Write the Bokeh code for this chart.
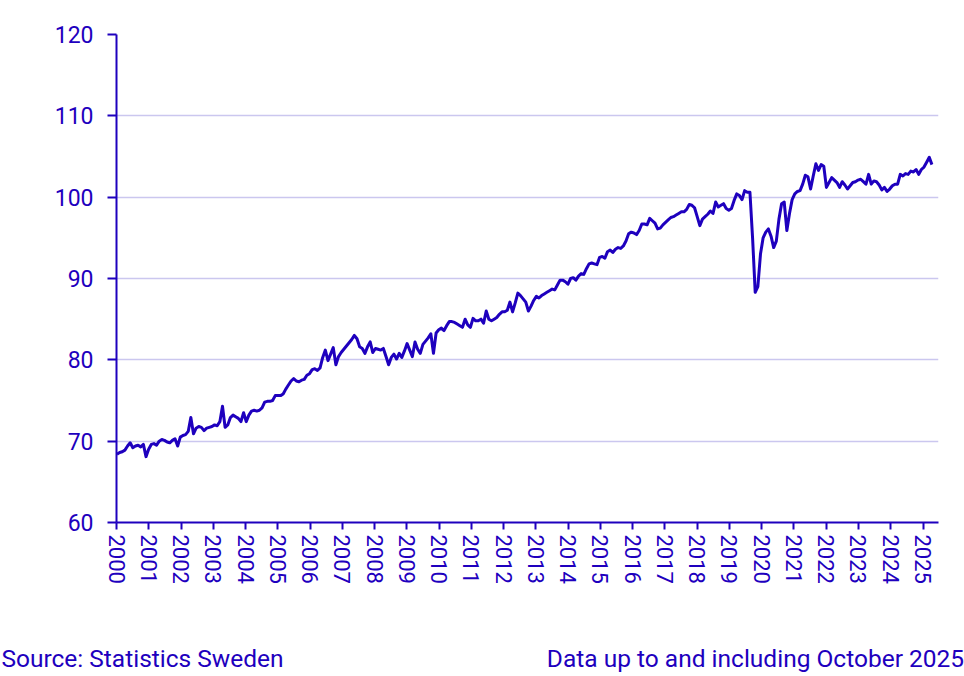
import numpy as np
from bokeh.plotting import figure
from bokeh.models import ColumnDataSource, LinearAxis, Range1d, FixedTicker
from bokeh.embed import file_html
from bokeh.resources import INLINE

# Monthly index values, January 2000 - October 2025
v2000 = [68.4, 68.6, 68.7, 68.9, 69.4, 69.8, 69.2, 69.4, 69.5, 69.3, 69.6, 68.1]
v2001 = [69.0, 69.6, 69.7, 69.5, 70.0, 70.2, 70.1, 69.9, 69.8, 70.1, 70.3, 69.4]
v2002 = [70.5, 70.7, 70.8, 71.2, 72.9, 70.9, 71.6, 71.8, 71.7, 71.3, 71.6, 71.7]
v2003 = [71.8, 72.0, 71.9, 72.4, 74.3, 71.7, 72.0, 72.9, 73.2, 73.0, 72.8, 72.4]
v2004 = [73.5, 72.4, 73.2, 73.7, 73.8, 73.7, 73.8, 74.1, 74.8, 74.9, 74.9, 75.0]
v2005 = [75.6, 75.6, 75.6, 75.8, 76.4, 76.9, 77.4, 77.7, 77.4, 77.3, 77.5, 77.6]
v2006 = [78.1, 78.3, 78.8, 78.9, 78.7, 79.0, 80.3, 81.2, 79.9, 80.7, 81.5, 79.4]
v2007 = [80.4, 80.9, 81.3, 81.7, 82.1, 82.5, 83.0, 82.6, 81.6, 81.4, 80.8, 81.6]
v2008 = [82.2, 80.9, 81.4, 81.3, 81.2, 81.4, 80.4, 79.4, 80.3, 80.7, 80.1, 80.8]
v2009 = [80.3, 81.1, 82.0, 81.2, 80.4, 82.2, 81.3, 80.8, 81.9, 82.3, 82.7, 83.2]
v2010 = [80.8, 83.3, 83.7, 83.9, 83.6, 84.2, 84.7, 84.7, 84.6, 84.4, 84.2, 84.0]
v2011 = [85.0, 84.3, 84.0, 85.1, 84.8, 84.8, 85.0, 84.5, 86.0, 85.0, 84.8, 85.0]
v2012 = [85.2, 85.6, 85.9, 85.9, 86.1, 87.1, 85.9, 87.0, 88.2, 87.9, 87.5, 87.1]
v2013 = [86.0, 86.6, 87.3, 87.8, 87.6, 87.9, 88.1, 88.3, 88.5, 88.7, 88.6, 89.2]
v2014 = [89.8, 89.8, 89.6, 89.3, 90.0, 90.1, 89.8, 90.3, 90.6, 90.5, 91.2, 91.8]
v2015 = [91.9, 91.8, 91.7, 92.6, 92.7, 92.5, 93.3, 93.5, 93.2, 93.6, 93.8, 93.7]
v2016 = [94.0, 94.6, 95.5, 95.7, 95.6, 95.4, 95.9, 96.7, 96.7, 96.6, 97.4, 97.1]
v2017 = [96.8, 96.1, 96.2, 96.6, 96.9, 97.2, 97.5, 97.6, 97.8, 98.0, 98.2, 98.2]
v2018 = [98.5, 99.1, 99.0, 98.7, 97.6, 96.5, 97.3, 97.6, 97.9, 98.3, 98.0, 99.4]
v2019 = [98.8, 99.0, 99.2, 98.6, 98.4, 98.6, 99.6, 100.4, 100.2, 99.7, 100.8, 100.6]
v2020 = [100.6, 95.0, 88.3, 89.0, 93.0, 95.0, 95.7, 96.1, 95.2, 93.8, 94.6, 97.3]
v2021 = [99.2, 99.4, 95.9, 98.0, 99.7, 100.4, 100.7, 100.8, 101.6, 102.7, 102.5, 101.0]
v2022 = [102.6, 104.1, 103.3, 104.0, 103.8, 101.2, 101.8, 102.4, 102.1, 101.8, 101.2, 101.9]
v2023 = [101.5, 101.0, 101.4, 101.8, 101.9, 102.1, 102.2, 101.9, 101.6, 102.8, 101.6, 102.0]
v2024 = [101.9, 101.5, 100.9, 101.2, 100.7, 101.0, 101.4, 101.6, 101.6, 102.8, 102.6, 102.9]
v2025 = [102.8, 103.2, 103.1, 103.4, 102.8, 103.4, 103.7, 104.3, 104.9, 104.0]

values = (v2000 + v2001 + v2002 + v2003 + v2004 + v2005 + v2006 + v2007 + v2008
          + v2009 + v2010 + v2011 + v2012 + v2013 + v2014 + v2015 + v2016 + v2017
          + v2018 + v2019 + v2020 + v2021 + v2022 + v2023 + v2024 + v2025)

years = list(range(2000, 2026))
y_ticks = [60, 70, 80, 90, 100, 110, 120]

source_text = "Source: Statistics Sweden"
note_text = "Data up to and including October 2025"

BLUE = "#1E00BE"
GRID = "#cbc7ef"
FONT = "Roboto"

source = ColumnDataSource(data=dict(month=np.arange(len(values)), value=values))

p = figure(
    width=964, height=676,
    x_range=Range1d(-0.19, 311.5),
    y_range=Range1d(60, 120),
    x_axis_location=None,
    tools="", toolbar_location=None,
    min_border_left=116, min_border_right=26,
    min_border_top=34, min_border_bottom=154,
    outline_line_color=None,
)
p.output_backend = "svg"

p.line("month", "value", source=source, line_color=BLUE, line_width=3,
       line_join="round")

# year axis is laid out on its own scale
p.extra_x_ranges["yr"] = Range1d(2000, 2025.48)
year_axis = LinearAxis(x_range_name="yr", ticker=FixedTicker(ticks=years))
p.add_layout(year_axis, "below")

for ax in p.axis:
    ax.axis_line_color = BLUE
    ax.axis_line_width = 2
    ax.major_tick_line_color = BLUE
    ax.major_tick_line_width = 2
    ax.major_tick_in = 0
    ax.minor_tick_line_color = None
    ax.major_label_text_color = BLUE
    ax.major_label_text_font = FONT

year_axis.major_label_text_font_size = "22px"
year_axis.major_tick_out = 7
year_axis.major_label_standoff = 5
year_axis.major_label_orientation = "vertical"

p.yaxis.ticker = FixedTicker(ticks=y_ticks)
p.yaxis.major_label_text_font_size = "23px"
p.yaxis.major_tick_out = 9
p.yaxis.major_label_standoff = 14

p.xgrid.grid_line_color = None
p.ygrid.grid_line_color = GRID
p.ygrid.grid_line_width = 1.5

# footer line: a bare axis whose two labels carry the source and the note
# (range in canvas pixels across the frame, 116..938)
p.extra_x_ranges["foot"] = Range1d(116, 938)
foot_axis = LinearAxis(x_range_name="foot", ticker=FixedTicker(ticks=[142, 755]))
foot_axis.major_label_overrides = {142: source_text, 755: note_text}
foot_axis.axis_line_color = None
foot_axis.major_tick_line_color = None
foot_axis.minor_tick_line_color = None
foot_axis.major_tick_out = 0
foot_axis.major_label_standoff = 57
foot_axis.major_label_text_color = BLUE
foot_axis.major_label_text_font = FONT
foot_axis.major_label_text_font_size = "24.5px"
p.add_layout(foot_axis, "below")

open("out.html", "w").write(file_html(p, INLINE))
